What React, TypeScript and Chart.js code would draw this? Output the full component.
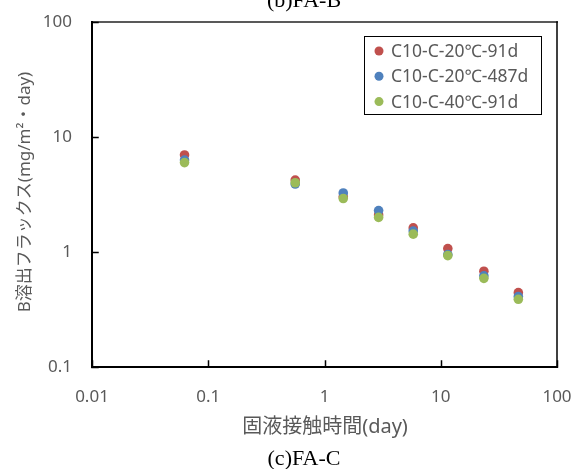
import { useEffect, useRef } from "react";
import { Chart, registerables } from "chart.js";

Chart.register(...registerables);

// ---- data ----
const contactDays = [0.0625, 0.56, 1.45, 2.92, 5.8, 11.5, 23.5, 46.5];
const flux20c91d = [6.98, 4.22, 3.02, 2.1, 1.62, 1.07, 0.68, 0.443];
const flux20c487d = [6.3, 3.9, 3.26, 2.29, 1.52, 0.95, 0.62, 0.41];
const flux40c91d = [5.99, 4.0, 2.92, 2.0, 1.43, 0.93, 0.59, 0.388];
const seriesLabels = ["C10-C-20℃-91d", "C10-C-20℃-487d", "C10-C-40℃-91d"];
const seriesColors = ["#C0504D", "#4F81BD", "#9BBB59"];
const xTickValues = [0.01, 0.1, 1, 10, 100];
const yTickValues = [0.1, 1, 10, 100];
const xAxisTitle = "固液接触時間(day)";
const yAxisTitle = "B溶出フラックス(mg/m²・day)";
const topCaption = "(b)FA-B";
const bottomCaption = "(c)FA-C";

const SANS = '"Noto Sans", "Noto Sans CJK JP", sans-serif';
const SERIF = '"Liberation Serif", "DejaVu Serif", serif';
const TEXT_GRAY = "#595959";

const decorPlugin = {
  id: "decor",
  afterDraw(chart: any) {
    const { ctx, chartArea } = chart;
    const { left, right, top, bottom } = chartArea;
    const xs = chart.scales.x;
    const ys = chart.scales.y;
    ctx.save();
    // frame
    ctx.lineCap = "square";
    ctx.strokeStyle = TEXT_GRAY;
    ctx.lineWidth = 2;
    ctx.beginPath();
    ctx.moveTo(left, top);
    ctx.lineTo(right, top);
    ctx.stroke();
    ctx.strokeStyle = "#000";
    ctx.lineWidth = 1.5;
    ctx.beginPath();
    ctx.moveTo(right, top);
    ctx.lineTo(right, bottom);
    ctx.stroke();
    ctx.lineWidth = 2;
    ctx.beginPath();
    ctx.moveTo(left, top);
    ctx.lineTo(left, bottom);
    ctx.lineTo(right, bottom);
    ctx.stroke();
    // inner tick marks
    ctx.lineWidth = 1.5;
    ctx.beginPath();
    yTickValues.forEach((v) => {
      const y = Math.round(ys.getPixelForValue(v)) + 0.5;
      ctx.moveTo(left, y);
      ctx.lineTo(left + 6, y);
    });
    xTickValues.forEach((v) => {
      const x = Math.round(xs.getPixelForValue(v)) + 0.5;
      ctx.moveTo(x, bottom);
      ctx.lineTo(x, bottom - 6);
    });
    ctx.stroke();

    // legend
    const lx = 364, ly = 36, lw = 177, lh = 78;
    ctx.fillStyle = "#fff";
    ctx.fillRect(lx, ly, lw, lh);
    ctx.strokeStyle = "#000";
    ctx.lineWidth = 1;
    ctx.strokeRect(lx + 0.5, ly + 0.5, lw, lh);
    ctx.font = `17.5px ${SANS}`;
    ctx.textBaseline = "middle";
    ctx.textAlign = "left";
    seriesLabels.forEach((label, i) => {
      const cy = ly + 15 + i * 25.3;
      ctx.fillStyle = seriesColors[i];
      ctx.beginPath();
      ctx.arc(lx + 15, cy, 4.5, 0, Math.PI * 2);
      ctx.fill();
      ctx.fillStyle = TEXT_GRAY;
      ctx.fillText(label, lx + 27, cy + 1);
    });

    // axis titles
    ctx.fillStyle = TEXT_GRAY;
    ctx.font = `20px ${SANS}`;
    ctx.textAlign = "center";
    ctx.textBaseline = "middle";
    ctx.fillText(xAxisTitle, 325, 427);
    ctx.save();
    ctx.translate(25, 192);
    ctx.rotate(-Math.PI / 2);
    ctx.font = `17px ${SANS}`;
    ctx.fillText(yAxisTitle, 0, 0);
    ctx.restore();

    // captions
    ctx.fillStyle = "#000";
    ctx.font = `22px ${SERIF}`;
    ctx.textBaseline = "alphabetic";
    ctx.fillText(topCaption, 304, 7);
    ctx.fillText(bottomCaption, 304, 465);
    ctx.restore();
  },
};

export default function App() {
  const canvasRef = useRef<HTMLCanvasElement | null>(null);

  useEffect(() => {
    document.body.style.margin = "0";
    const canvas = canvasRef.current;
    if (!canvas) return;
    const series = [flux20c91d, flux20c487d, flux40c91d];
    const chart = new Chart(canvas, {
      type: "scatter",
      data: {
        datasets: series.map((vals, i) => ({
          label: seriesLabels[i],
          data: contactDays.map((d, j) => ({ x: d, y: vals[j] })),
          backgroundColor: seriesColors[i],
          borderColor: seriesColors[i],
          borderWidth: 0,
          pointRadius: 4.8,
          pointHoverRadius: 4.8,
          showLine: false,
          order: 3 - i,
        })),
      },
      options: {
        responsive: false,
        animation: false,
        devicePixelRatio: 1,
        layout: { padding: { top: 22, right: 19, left: 0, bottom: 0 } },
        plugins: {
          legend: { display: false },
          tooltip: { enabled: false },
          title: { display: false },
        },
        scales: {
          x: {
            type: "logarithmic",
            min: 0.01,
            max: 100,
            afterBuildTicks: (s: any) => {
              s.ticks = xTickValues.map((v) => ({ value: v }));
            },
            afterFit: (s: any) => {
              s.height = 102;
              s.paddingLeft = 0;
              s.paddingRight = 0;
            },
            ticks: {
              autoSkip: false,
              maxRotation: 0,
              padding: 20,
              color: TEXT_GRAY,
              font: { size: 17, family: SANS },
              callback: (v: any) => String(v),
            },
            grid: { display: false, drawTicks: false },
            border: { display: false },
          },
          y: {
            type: "logarithmic",
            min: 0.1,
            max: 100,
            afterBuildTicks: (s: any) => {
              s.ticks = yTickValues.map((v) => ({ value: v }));
            },
            afterFit: (s: any) => {
              s.width = 92;
              s.paddingTop = 0;
              s.paddingBottom = 0;
            },
            ticks: {
              autoSkip: false,
              padding: 20,
              color: TEXT_GRAY,
              font: { size: 17, family: SANS },
              callback: (v: any) => String(v),
            },
            grid: { display: false, drawTicks: false },
            border: { display: false },
          },
        },
      },
      plugins: [decorPlugin],
    });
    return () => chart.destroy();
  }, []);

  return (
    <canvas
      ref={canvasRef}
      width={576}
      height={469}
      style={{ display: "block", width: 576, height: 469 }}
    />
  );
}
